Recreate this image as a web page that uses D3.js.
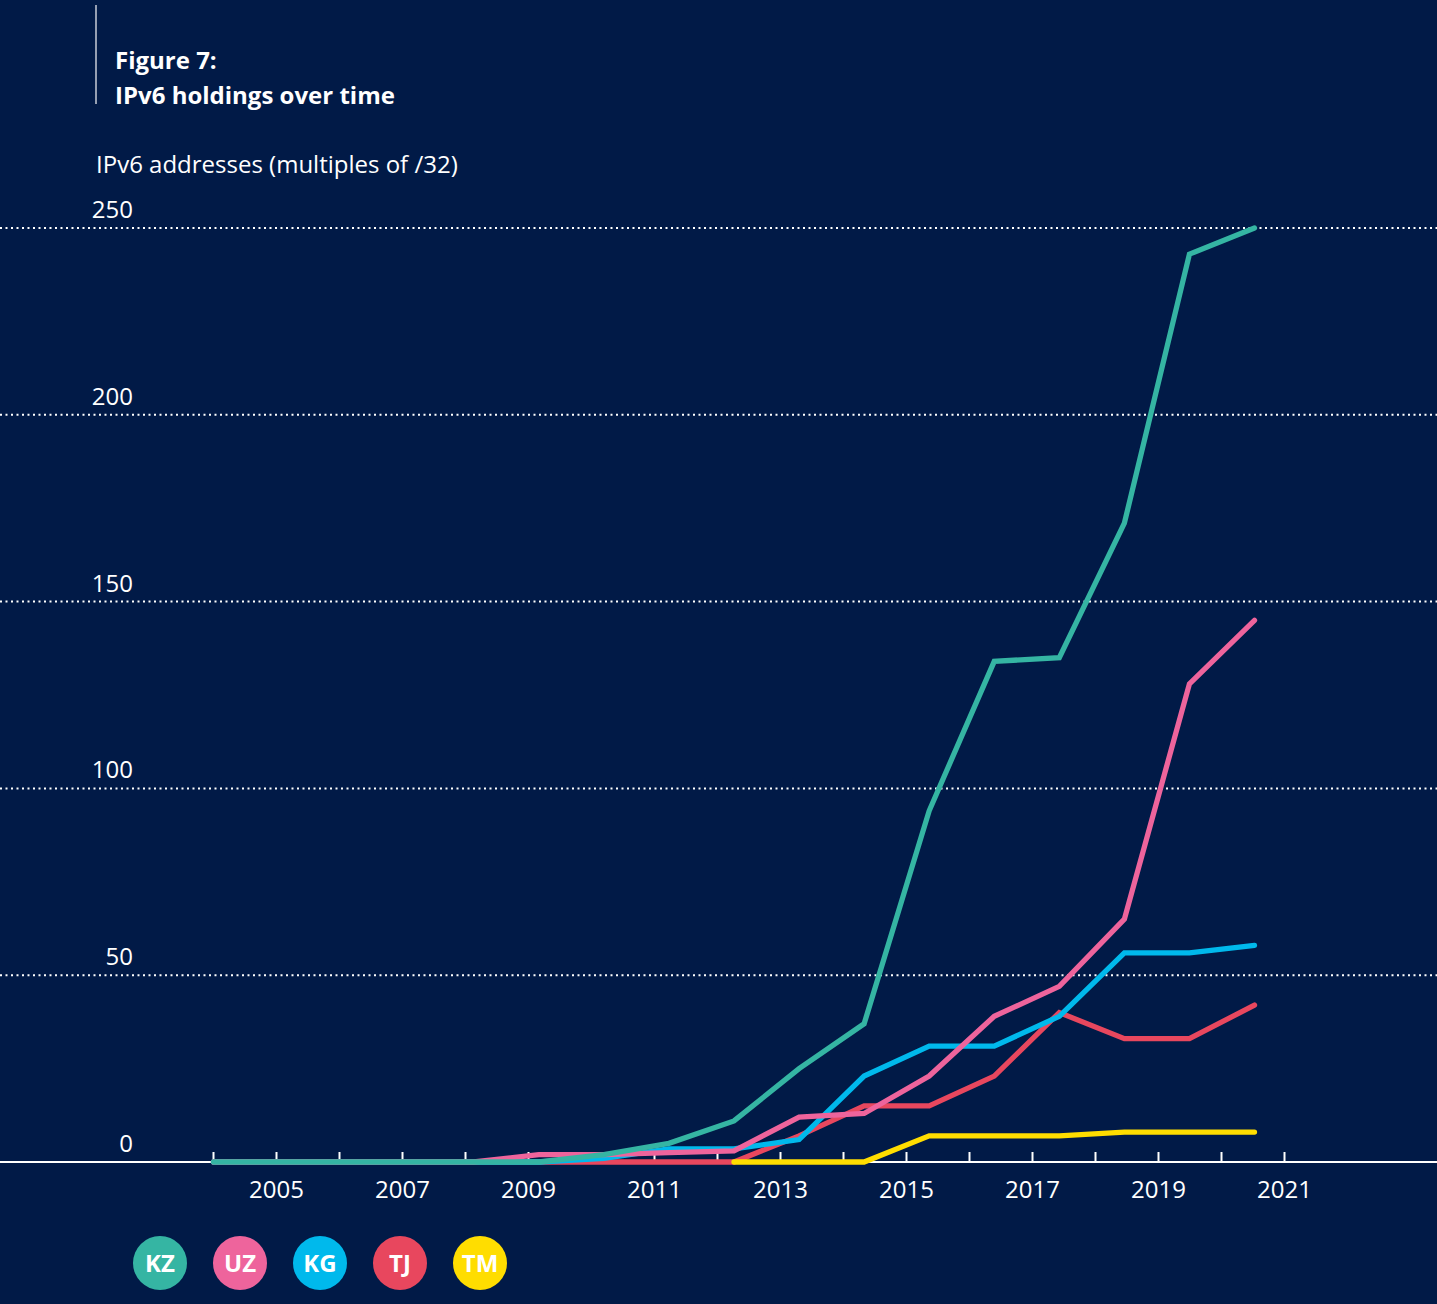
<!DOCTYPE html>
<html>
<head>
<meta charset="utf-8">
<script src="https://cdn.jsdelivr.net/npm/d3@7"></script>
<style>
  body { margin: 0; background: #011a47; }
  text { font-family: "Open Sans", "Noto Sans", sans-serif; }
</style>
</head>
<body>
<div id="chart"></div>
<script>
const years = [2004, 2005, 2006, 2007, 2008, 2009, 2010, 2011, 2012, 2013, 2014, 2015, 2016, 2017, 2018, 2019, 2020];

const kz = [0, 0, 0, 0, 0, 0, 2, 5, 11, 25, 37, 94, 134, 135, 171, 243, 250];
const uz = [0, 0, 0, 0, 0, 2, 2, 2.5, 3, 12, 13, 23, 39, 47, 65, 128, 145];
const kg = [0, 0, 0, 0, 0, 0, 1, 3.5, 3.5, 6, 23, 31, 31, 39, 56, 56, 58];
const tj = [0, 0, 0, 0, 0, 0, 0, 0, 0, 7, 15, 15, 23, 40, 33, 33, 42];
const tm = [null, null, null, null, null, null, null, null, 0, 0, 0, 7, 7, 7, 8, 8, 8];

const countries = ["KZ", "UZ", "KG", "TJ", "TM"];
const colors = ["#35b5a3", "#ee649c", "#00b9ec", "#e8475e", "#ffdd00"];

const axisYears = d3.range(2004, 2022);
const yTicks = [0, 50, 100, 150, 200, 250];

const width = 1437;
const height = 1304;

const svg = d3.select("#chart").append("svg")
  .attr("width", width)
  .attr("height", height)
  .attr("viewBox", [0, 0, width, height]);

svg.append("rect")
  .attr("width", width)
  .attr("height", height)
  .attr("fill", "#011a47");

// axis ticks and data points are not on quite the same spacing in the original
const xAxisScale = d3.scaleLinear()
  .domain([2004, 2021])
  .range([213, 1284]);

const x = d3.scaleLinear()
  .domain([2004, 2020])
  .range([213.5, 1254.5]);

const y = d3.scaleLinear()
  .domain([0, 250])
  .range([1162, 228]);

// title
svg.append("line")
  .attr("x1", 96).attr("x2", 96)
  .attr("y1", 5).attr("y2", 104)
  .attr("stroke", "#c9cdd6")
  .attr("stroke-width", 1.5);

svg.append("text")
  .attr("x", 115).attr("y", 69)
  .attr("fill", "white")
  .attr("font-size", 24)
  .attr("font-weight", "bold")
  .text("Figure 7:");

svg.append("text")
  .attr("x", 115).attr("y", 104)
  .attr("fill", "white")
  .attr("font-size", 24)
  .attr("font-weight", "bold")
  .text("IPv6 holdings over time");

svg.append("text")
  .attr("x", 96).attr("y", 173)
  .attr("fill", "white")
  .attr("font-size", 24)
  .text("IPv6 addresses (multiples of /32)");

// grid
const grid = svg.append("g");

grid.selectAll("line")
  .data(yTicks)
  .join("line")
  .attr("x1", 0).attr("x2", width)
  .attr("y1", d => y(d)).attr("y2", d => y(d))
  .attr("stroke", "white")
  .attr("stroke-width", d => d === 0 ? 2.2 : 2)
  .attr("stroke-dasharray", d => d === 0 ? null : "2,3.5");

grid.selectAll("text")
  .data(yTicks)
  .join("text")
  .attr("x", 133)
  .attr("y", d => y(d) - 10)
  .attr("text-anchor", "end")
  .attr("fill", "white")
  .attr("font-size", 24)
  .text(d => d);

// x axis
svg.append("g")
  .attr("transform", `translate(0,${y(0)})`)
  .call(d3.axisBottom(xAxisScale)
    .tickValues(axisYears)
    .tickSizeInner(-10)
    .tickSizeOuter(0)
    .tickPadding(19)
    .tickFormat(d => d % 2 === 1 ? d : ""))
  .call(g => g.select(".domain").remove())
  .call(g => g.selectAll(".tick line").attr("stroke", "white").attr("stroke-width", 2))
  .call(g => g.selectAll(".tick text")
    .attr("fill", "white")
    .attr("font-size", 24)
    .attr("font-family", "'Open Sans', 'Noto Sans', sans-serif"));

// lines
const series = [
  { name: "TJ", values: tj, color: colors[3] },
  { name: "KG", values: kg, color: colors[2] },
  { name: "UZ", values: uz, color: colors[1] },
  { name: "KZ", values: kz, color: colors[0] },
  { name: "TM", values: tm, color: colors[4] }
];

const line = d3.line()
  .defined(d => d[1] !== null)
  .x(d => x(d[0]))
  .y(d => y(d[1]));

svg.append("g")
  .attr("fill", "none")
  .attr("stroke-width", 5.3)
  .attr("stroke-linecap", "round")
  .selectAll("path")
  .data(series)
  .join("path")
  .attr("stroke", d => d.color)
  .attr("d", d => line(years.map((yr, i) => [yr, d.values[i]])));

// legend
const legend = svg.append("g")
  .selectAll("g")
  .data(countries)
  .join("g")
  .attr("transform", (d, i) => `translate(${160 + i * 80},1263)`);

legend.append("circle")
  .attr("r", 27)
  .attr("fill", (d, i) => colors[i]);

legend.append("text")
  .attr("text-anchor", "middle")
  .attr("dy", "0.36em")
  .attr("fill", "white")
  .attr("font-size", 24)
  .attr("font-weight", "bold")
  .text(d => d);
</script>
</body>
</html>
